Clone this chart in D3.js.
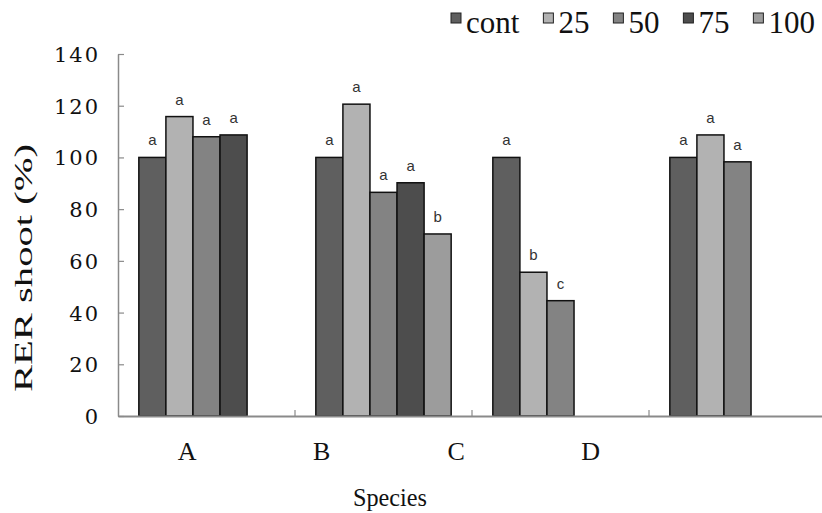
<!DOCTYPE html>
<html>
<head>
<meta charset="utf-8">
<script src="https://cdn.jsdelivr.net/npm/d3@7"></script>
<style>
  body { margin: 0; background: #fff; }
  svg { display: block; }
</style>
</head>
<body>
<svg width="822" height="513"></svg>
<script>
var width = 822;
var height = 513;

// data
var categories = ["A", "B", "C", "D"];
var seriesNames = ["cont", "25", "50", "75", "100"];
var contValues = [100, 100, 100, 100];
var v25 = [115.8, 120.6, 55.6, 108.7];
var v50 = [108, 86.5, 44.6, 98.3];
var v75 = [108.7, 90.2, null, null];
var v100 = [null, 70.4, null, null];
var letters = [
  ["a", "a", "a", "a"],
  ["a", "a", "b", "a"],
  ["a", "a", "c", "a"],
  ["a", "a", null, null],
  [null, "b", null, null]
];
var yTicks = [0, 20, 40, 60, 80, 100, 120, 140];
var colors = ["#5f5f5f", "#b2b2b2", "#838383", "#4d4d4d", "#9c9c9c"];

var allValues = [contValues, v25, v50, v75, v100];

var bars = [];
seriesNames.forEach(function(s, i) {
  categories.forEach(function(c, j) {
    if (allValues[i][j] !== null)
      bars.push({cat: c, series: s, idx: i, value: allValues[i][j], letter: letters[i][j]});
  });
});

var svg = d3.select("svg");

var yScale = d3.scaleLinear()
                .domain([0, 140])
                .range([416, 54]);

var xScale = d3.scaleBand()
                .domain(categories)
                .range([118, 826])
                .paddingInner(0)
                .paddingOuter(0);

var inner = d3.scaleBand()
                .domain(seriesNames)
                .range([0, xScale.bandwidth()])
                .paddingInner(0)
                .paddingOuter(0.77);

// label positions in the figure sit left of the groups
var labelScale = d3.scaleBand()
                .domain(categories)
                .range([120, 658]);

// bars
svg.append("g")
  .selectAll("rect")
  .data(bars)
  .enter()
  .append("rect")
    .attr("x", d => xScale(d.cat) + inner(d.series))
    .attr("y", d => yScale(d.value))
    .attr("width", inner.bandwidth())
    .attr("height", d => yScale(0) - yScale(d.value))
    .attr("fill", d => colors[d.idx])
    .attr("stroke", "#111")
    .attr("stroke-width", 1.5);

// significance letters
svg.append("g")
  .selectAll("text")
  .data(bars.filter(d => d.letter))
  .enter()
  .append("text")
    .attr("x", d => xScale(d.cat) + inner(d.series) + inner.bandwidth() / 2)
    .attr("y", d => yScale(d.value) - 12)
    .attr("text-anchor", "middle")
    .style("font-family", "'Liberation Sans', Arial, sans-serif")
    .style("font-size", "15px")
    .style("fill", "#333")
    .text(d => d.letter);

// y axis
var yAxis = d3.axisRight(yScale)
                .tickValues(yTicks)
                .tickSize(6)
                .tickSizeOuter(0)
                .tickFormat(d3.format("d"));

var gy = svg.append("g")
    .attr("transform", "translate(118,0)")
    .call(yAxis);
gy.select(".domain").attr("stroke", "#8a8a8a").attr("stroke-width", 1.5);
gy.selectAll(".tick line").attr("stroke", "#8a8a8a").attr("stroke-width", 1.2);
gy.selectAll(".tick text")
    .attr("x", -18)
    .attr("dy", "0.36em")
    .attr("text-anchor", "end")
    .style("font-family", "'DejaVu Serif', serif")
    .style("font-size", "21px")
    .style("letter-spacing", "2px")
    .style("fill", "#111");

// x axis line with inward ticks at group boundaries
var xAxis = d3.axisTop(xScale)
                .tickValues([])
                .tickSizeOuter(0);
var gx = svg.append("g")
    .attr("transform", "translate(0,416)")
    .call(xAxis);
gx.select(".domain").attr("stroke", "#8a8a8a").attr("stroke-width", 2);
gx.selectAll(".bound")
  .data(categories.slice(1))
  .enter()
  .append("line")
    .attr("class", "bound")
    .attr("x1", d => xScale(d))
    .attr("x2", d => xScale(d))
    .attr("y1", 0)
    .attr("y2", -6)
    .attr("stroke", "#8a8a8a")
    .attr("stroke-width", 1.2);

// category labels
var labelAxis = d3.axisBottom(labelScale).tickSize(0);
var gl = svg.append("g")
    .attr("transform", "translate(0,460)")
    .call(labelAxis);
gl.select(".domain").remove();
gl.selectAll(".tick text")
    .attr("y", 0)
    .attr("dy", "0")
    .style("font-family", "'Liberation Serif', serif")
    .style("font-size", "26px")
    .style("fill", "#111");

// axis titles
svg.append("text")
    .attr("x", 390)
    .attr("y", 506)
    .style("text-anchor", "middle")
    .style("font-family", "'Liberation Serif', serif")
    .style("font-size", "26px")
    .attr("textLength", 74)
    .attr("lengthAdjust", "spacingAndGlyphs")
    .style("fill", "#111")
    .text("Species");

svg.append("text")
    .attr("transform", "rotate(-90)")
    .attr("x", -268)
    .attr("y", 32)
    .style("text-anchor", "middle")
    .style("font-family", "'Liberation Serif', serif")
    .style("font-size", "25px")
    .attr("textLength", 248)
    .attr("lengthAdjust", "spacingAndGlyphs")
    .style("fill", "#111")
    .text("RER shoot (%)");

// legend
var legend = svg.append("g");
var lx = 451;
seriesNames.forEach(function(s, i) {
  legend.append("rect")
      .attr("x", lx)
      .attr("y", 13)
      .attr("width", 10)
      .attr("height", 10)
      .attr("fill", colors[i])
      .attr("stroke", "#222")
      .attr("stroke-width", 1);
  var t = legend.append("text")
      .attr("x", lx + 15)
      .attr("y", 33)
      .style("font-family", "'Liberation Serif', serif")
      .style("font-size", "31px")
      .style("fill", "#111")
      .text(s);
  lx = lx + 15 + t.node().getComputedTextLength() + 24;
});
</script>
</body>
</html>
